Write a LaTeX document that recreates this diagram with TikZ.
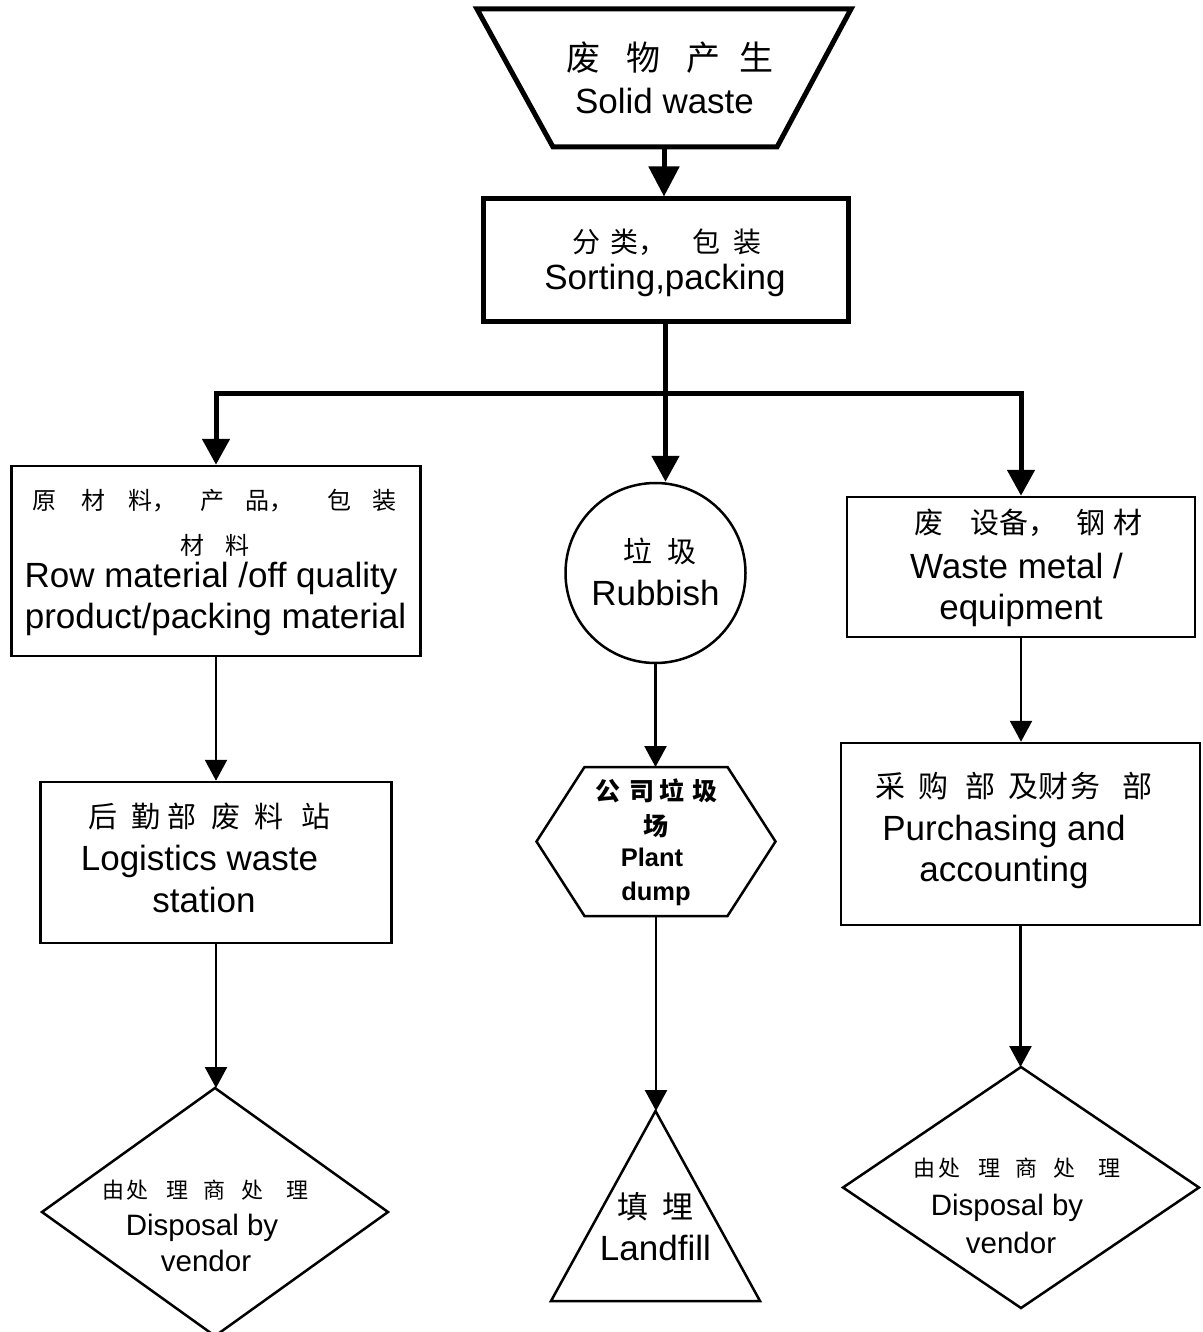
\documentclass[tikz,border=0pt]{standalone}
\usepackage{fontspec}
\setmainfont{Liberation Sans}
\newfontfamily\cjk{Noto Sans CJK SC}
\usetikzlibrary{arrows.meta}
\begin{document}
\begin{tikzpicture}[x=1pt,y=-1pt,
  thickline/.style={line width=5pt, line join=miter},
  thinline/.style={line width=2.5pt, line join=miter},
  bigtip/.style={-{Triangle[width=30pt,length=30pt]}},
  bustip/.style={-{Triangle[width=27pt,length=26pt]}},
  smalltip/.style={-{Triangle[width=22pt,length=21pt]}},
  rectbox/.style={draw, thinline, inner sep=0, minimum width=#1},
  frame/.style={inner sep=0, outer sep=0},
  en/.style={anchor=base, inner sep=0, font=\fontsize{35}{42}\selectfont},
  ens/.style={anchor=base, inner sep=0, font=\fontsize{29.5}{35}\selectfont},
  enb/.style={anchor=base, inner sep=0, font=\bfseries\fontsize{25.5}{30}\selectfont},
  cn/.style={anchor=base, inner sep=0, font=\cjk\fontsize{#1}{#1}\selectfont},
  cnb/.style={anchor=base, inner sep=0, font=\cjk\bfseries\fontsize{#1}{#1}\selectfont}]
\clip (0,0) rectangle (1202,1332);
\fill[white] (0,0) rectangle (1202,1332);

% ---- shapes ----
\node[frame, minimum width=374pt, minimum height=138pt] (trap) at (664,78) {};
\draw[thickline] (trap.north west) -- (trap.north east) -- ([xshift=-74pt]trap.south east)
   -- ([xshift=76pt]trap.south west) -- cycle;

\node[draw, thickline, inner sep=0, minimum width=365pt, minimum height=122pt] (sort) at (665.5,260) {};

\node[rectbox=409pt, minimum height=190pt] (lbox) at (216,561) {};
\node[draw, thinline, circle, inner sep=0, minimum size=180pt] (circ) at (655.5,573) {};
\node[rectbox=348pt, minimum height=140pt] (rbox1) at (1021,567) {};

\node[rectbox=351pt, minimum height=161pt] (lbox2) at (216,862.5) {};
\node[frame, minimum width=239pt, minimum height=149pt] (hex) at (656,841.5) {};
\draw[thinline] (hex.west) -- ([xshift=48pt]hex.north west) -- ([xshift=-48pt]hex.north east)
   -- (hex.east) -- ([xshift=-48pt]hex.south east) -- ([xshift=48pt]hex.south west) -- cycle;
\node[rectbox=359pt, minimum height=182pt] (rbox2) at (1020.5,834) {};

\node[frame, minimum width=346pt, minimum height=248pt] (ldia) at (215,1212) {};
\draw[thinline] (ldia.north) -- (ldia.east) -- (ldia.south) -- (ldia.west) -- cycle;
\node[frame, minimum width=209pt, minimum height=190pt] (tri) at (655.5,1206) {};
\draw[thinline] (tri.north) -- (tri.south east) -- (tri.south west) -- cycle;
\node[frame, minimum width=356pt, minimum height=241pt] (rdia) at (1021,1187.5) {};
\draw[thinline] (rdia.north) -- (rdia.east) -- (rdia.south) -- (rdia.west) -- cycle;

% ---- connectors ----
\draw[thickline, bigtip] (trap.south) -- (trap.south |- sort.north);
\coordinate (j) at (665.5,393);
\draw[thickline] (sort.south) -- (j);
\draw[thickline, bustip] (j) -| (lbox.north);
\draw[thickline, bustip] (j) -| (rbox1.north);
\draw[thickline, bustip] (j) -- (j |- circ.north);
\draw[thinline, smalltip] (lbox.south) -- (lbox.south |- lbox2.north);
\draw[thinline, smalltip] (lbox2.south) -- (lbox2.south |- ldia.north);
\draw[thinline, smalltip] (circ.south) -- (circ.south |- hex.north);
\draw[thinline, smalltip] (hex.south) -- (hex.south |- tri.north);
\draw[thinline, smalltip] (rbox1.south) -- (rbox1.south |- rbox2.north);
\draw[thinline, smalltip] (rbox2.south) -- (rbox2.south |- rdia.north);

% ---- texts ----
\node[cn=34] (t1a) at (670,70.4) {废\hspace{26pt}物\hspace{26pt}产\hspace{19pt}生};
\node[en] (t1b) at (664.5,113.3) {Solid waste};
\node[cn=28] (t2a) at (666.5,253) {分\hspace{10pt}类，\hspace{27pt}包\hspace{12pt}装};
\node[en] (t2b) at (665,289.5) {Sorting,packing};

\node[cn=24] (t3a) at (214.5,509) {原\hspace{26pt}材\hspace{22pt}料，\hspace{24pt}产\hspace{21pt}品，\hspace{35pt}包\hspace{21pt}装};
\node[cn=24] (t3b) at (215,554) {材\hspace{22pt}料};
\node[en] (t3c) at (211,587.3) {Row material /off quality};
\node[en] (t3d) at (215.5,628.3) {product/packing material};

\node[cn=29] (t4a) at (659.5,562.5) {垃\hspace{15pt}圾};
\node[en] (t4b) at (655.5,605) {Rubbish};

\node[cn=29] (t5a) at (1028,533.5) {废\hspace{28pt}设备，\hspace{18pt}钢\hspace{8pt}材};
\node[en] (t5b) at (1016.5,578.3) {Waste metal /};
\node[en] (t5c) at (1021,619) {equipment};

\node[cn=29] (t6a) at (209.5,827.5) {后\hspace{15pt}勤\hspace{7pt}部\hspace{15pt}废\hspace{14pt}料\hspace{18pt}站};
\node[en] (t6b) at (199.5,870.6) {Logistics waste};
\node[en] (t6c) at (204,912.5) {station};

\node[cnb=25] (t7a) at (656,800.6) {公\hspace{9pt}司\hspace{5pt}垃\hspace{8pt}圾};
\node[cnb=25] (t7b) at (655.5,835) {场};
\node[enb] (t7c) at (652,866.7) {Plant};
\node[enb] (t7d) at (656,900) {dump};

\node[cn=30] (t8a) at (1014,797) {采\hspace{13pt}购\hspace{17pt}部\hspace{13pt}及财\hspace{2pt}务\hspace{23pt}部};
\node[en] (t8b) at (1004,840) {Purchasing and};
\node[en] (t8c) at (1004,881.7) {accounting};

\node[cn=22] (t9a) at (205.5,1198.4) {由\hspace{3pt}处\hspace{18pt}理\hspace{15pt}商\hspace{16pt}处\hspace{23pt}理};
\node[ens] (t9b) at (202,1235) {Disposal by};
\node[ens] (t9c) at (206,1271.7) {vendor};

\node[cn=31] (t11a) at (655.5,1218) {填\hspace{14pt}埋};
\node[en] (t11b) at (655.4,1260) {Landfill};

\node[cn=22] (t10a) at (1017,1176.4) {由\hspace{3pt}处\hspace{18pt}理\hspace{15pt}商\hspace{16pt}处\hspace{23pt}理};
\node[ens] (t10b) at (1007,1215) {Disposal by};
\node[ens] (t10c) at (1011,1253) {vendor};
\end{tikzpicture}
\end{document}
